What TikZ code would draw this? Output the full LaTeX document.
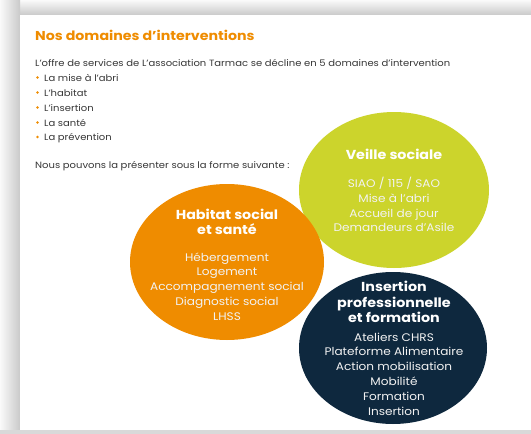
\documentclass[tikz,border=0pt]{standalone}
\usepackage{fontspec}
\setmainfont{Poppins}
\newfontfamily\widefont[FakeStretch=1.1]{Poppins}
\usetikzlibrary{shapes.geometric}

\definecolor{brandorange}{RGB}{239,140,0}
\definecolor{limegreen}{RGB}{204,212,44}
\definecolor{deepnavy}{RGB}{14,40,62}
\definecolor{bodytext}{RGB}{55,55,55}

\begin{document}
\begin{tikzpicture}[x=1pt,y=-1pt,
  body/.style={anchor=base west, inner sep=0pt, text=bodytext,
    font=\widefont\fontsize{9.1}{12}\selectfont},
  dot/.style={circle, fill=brandorange, inner sep=0pt, minimum size=2.6pt},
  blob/.style={ellipse, inner sep=0pt},
  head/.style={align=center, inner sep=0pt, text=white,
    font=\widefont\bfseries\fontsize{13}{15.5}\selectfont},
  items/.style={align=center, inner sep=0pt, text=white!90!gray,
    font=\widefont\fontsize{11}{14.8}\selectfont}]
\useasboundingbox (0,0) rectangle (531,434);

% soft drop shadow around the sheet
\shade[top color=gray!4, bottom color=gray!42] (0,0) rectangle (531,15);
\shade[left color=gray!4, right color=gray!42] (0,0) rectangle (20,434);
\fill[gray!30] (0,430) rectangle (531,434);
\fill[white] (20,15) rectangle (531,430);

% heading
\node[anchor=base west, inner sep=0pt, text=brandorange,
  font=\widefont\bfseries\fontsize{12.9}{16}\selectfont] (title) at (35,40.5)
  {Nos domaines d’interventions};

% introduction and list of domains
\node[body] (intro) at (35,66.5)
  {L’offre de services de L’association Tarmac se décline en 5 domaines d’intervention};
\node[dot] (b1) at (37.5,77.5) {};
\node[body] (l1) at (44,81) {La mise à l’abri};
\node[dot] (b2) at (37.5,92.5) {};
\node[body] (l2) at (44,96) {L’habitat};
\node[dot] (b3) at (37.5,107.5) {};
\node[body] (l3) at (44,111) {L’insertion};
\node[dot] (b4) at (37.5,122.5) {};
\node[body] (l4) at (44,126) {La santé};
\node[dot] (b5) at (37.5,137) {};
\node[body] (l5) at (44,140.5) {La prévention};
\node[body] (lead) at (35,168.5)
  {Nous pouvons la présenter sous la forme suivante :};

% the three domain bubbles
\node[blob, fill=limegreen, minimum width=190pt, minimum height=156pt] (veille) at (394,190) {};
\node[blob, fill=brandorange, minimum width=194pt, minimum height=156pt] (habitat) at (227,262) {};
\node[blob, fill=deepnavy, minimum width=188pt, minimum height=152pt] (insertion) at (393,348) {};

% bubble contents
\node[head] (veilleT) at (394,154) {Veille sociale};
\node[items] (veilleL) at (394,204.5)
  {SIAO / 115 / SAO\\Mise à l’abri\\Accueil de jour\\Demandeurs d’Asile};

\node[head] (habitatT) at (227,222) {Habitat social\\et santé};
\node[items] (habitatL) at (227,286.5)
  {Hébergement\\Logement\\Accompagnement social\\Diagnostic social\\LHSS};

\node[head] (insertionT) at (394,302) {Insertion\\professionnelle\\et formation};
\node[items] (insertionL) at (394,374)
  {Ateliers CHRS\\Plateforme Alimentaire\\Action mobilisation\\Mobilité\\Formation\\Insertion};
\end{tikzpicture}
\end{document}
